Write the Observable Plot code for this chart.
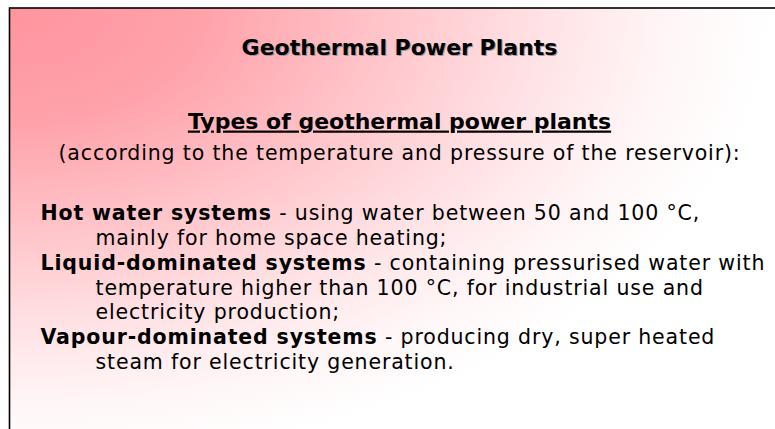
<!DOCTYPE html>
<html>
<head>
<meta charset="utf-8">
<script src="https://cdn.jsdelivr.net/npm/d3@7"></script>
<script src="https://cdn.jsdelivr.net/npm/@observablehq/plot@0.6"></script>
<style>
  html, body { margin: 0; padding: 0; background: #fff; }
  #chart { width: 775px; height: 429px; overflow: hidden; }
  #chart svg { display: block; overflow: hidden; }
  #chart .body text { letter-spacing: 0.85px; }
</style>
</head>
<body>
<div id="chart"></div>
<script>
// ---- content ----
const title = "Geothermal Power Plants";
const subtitle = "Types of geothermal power plants";
const subtitleNote = "(according to the temperature and pressure of the reservoir):";

const boldTerms = ["Hot water systems", "", "Liquid-dominated systems", "", "", "Vapour-dominated systems", ""];
const bodyTexts = [
  " - using water between 50 and 100 °C,",
  "mainly for home space heating;",
  " - containing pressurised water with",
  "temperature higher than 100 °C, for industrial use and",
  "electricity production;",
  " - producing dry, super heated",
  "steam for electricity generation."
];
const indentLevels = [0, 1, 0, 1, 1, 0, 1];

// ---- layout (styling, not data) ----
const W = 775, H = 429;
const FONT = "Tahoma, 'DejaVu Sans', sans-serif";
const bodySize = 20.5;
const letterSpacing = 0.85;
const headSize = 22;
const subSize = 22;
const cx = 399;
const bodyLeft = 40, indentStep = 55, bodyTop = 213, lineGap = 24.85;

const canvas = document.createElement("canvas");
const ctx = canvas.getContext("2d");
function measure(text, weight, size) {
  ctx.font = `${weight} ${size}px ${FONT}`;
  if ("letterSpacing" in ctx) ctx.letterSpacing = letterSpacing + "px";
  let w = ctx.measureText(text).width;
  if (!("letterSpacing" in ctx)) w += text.length * letterSpacing;
  return w;
}

const rows = bodyTexts.map((t, i) => {
  const x0 = bodyLeft + indentLevels[i] * indentStep;
  const bw = boldTerms[i] ? measure(boldTerms[i], "bold", bodySize) : 0;
  return {bold: boldTerms[i], text: bodyTexts[i], xb: x0, xt: x0 + bw, y: bodyTop + i * lineGap};
});

function gradientDefs() {
  const defs = d3.create("svg:defs");
  const g = defs.append("radialGradient")
    .attr("id", "bgGrad")
    .attr("gradientUnits", "userSpaceOnUse")
    .attr("cx", 10).attr("cy", 8).attr("r", 760)
    .attr("gradientTransform", "translate(10,8) scale(1,0.6) translate(-10,-8)");
  [[0, "#ff949e"], [0.25, "#ffa2aa"], [0.5, "#ffc6cb"], [0.7, "#ffe2e5"], [0.86, "#fff5f6"], [1, "#ffffff"]]
    .forEach(([o, c]) => g.append("stop").attr("offset", o).attr("stop-color", c));
  return defs.node();
}

const chart = Plot.plot({
  width: W, height: H,
  margin: 0,
  style: {background: "#fff", fontFamily: FONT},
  x: {domain: [0, W], range: [0, W], axis: null},
  y: {domain: [0, H], range: [0, H], axis: null},
  marks: [
    gradientDefs,
    Plot.frame({fill: "url(#bgGrad)", stroke: "#000", strokeWidth: 1.6, insetLeft: 9, insetTop: 7.5, insetRight: -10, insetBottom: -10}),
    // title shadow + title
    Plot.text([title], {x: () => cx, y: () => 47, text: d => d, fontSize: headSize, fontWeight: "bold", fill: "#9a9a9a", dx: 1, dy: 1.5}),
    Plot.text([title], {x: () => cx, y: () => 47, text: d => d, fontSize: headSize, fontWeight: "bold", fill: "#000"}),
    Plot.text([subtitle], {x: () => cx, y: () => 121, text: d => d, fontSize: subSize, fontWeight: "bold", fill: "#000", className: "under"}),
    Plot.text([subtitleNote], {x: () => cx, y: () => 153, text: d => d, fontSize: bodySize, fill: "#000", className: "body"}),
    Plot.text(rows.filter(r => r.bold), {x: "xb", y: "y", text: "bold", fontSize: bodySize, fontWeight: "bold", textAnchor: "start", fill: "#000", className: "body"}),
    Plot.text(rows, {x: "xt", y: "y", text: "text", fontSize: bodySize, textAnchor: "start", fill: "#000", className: "body"})
  ]
});
chart.querySelectorAll(".under text").forEach(t => t.setAttribute("text-decoration", "underline"));
document.getElementById("chart").appendChild(chart);
</script>
</body>
</html>
